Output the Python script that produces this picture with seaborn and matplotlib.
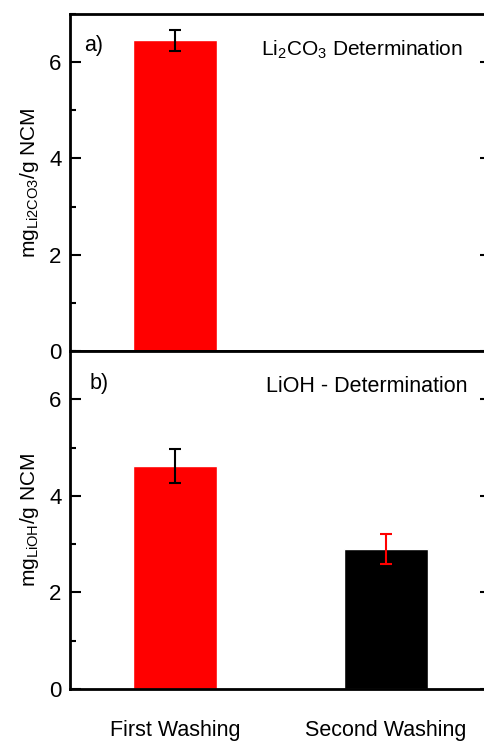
import matplotlib
matplotlib.use("Agg")
import matplotlib.pyplot as plt
import seaborn as sns
import numpy as np
import pandas as pd
from matplotlib.ticker import MultipleLocator

categories = ["First Washing", "Second Washing"]
li2co3_values = [6.45, np.nan]
li2co3_errors = [0.21, np.nan]
lioh_values = [4.62, 2.90]
lioh_errors = [0.36, 0.31]
bar_colors = ["#ff0000", "#000000"]
err_colors = ["#000000", "#ff0000"]

sns.set_theme(style="white")
plt.rcParams['font.family'] = ['Liberation Sans', 'DejaVu Sans']
plt.rcParams['mathtext.fontset'] = 'custom'
plt.rcParams['mathtext.rm'] = 'Liberation Sans'
plt.rcParams['mathtext.it'] = 'Liberation Sans'
for k in ['text.color', 'axes.labelcolor', 'xtick.color', 'ytick.color']:
    plt.rcParams[k] = 'black'

fig = plt.figure(figsize=(4.85, 7.47), dpi=100)
ax1 = fig.add_axes([70/485, (747-351)/747, 421/485, (351-14)/747])
ax2 = fig.add_axes([70/485, (747-689)/747, 421/485, (689-351)/747])

def draw(ax, vals, errs):
    df = pd.DataFrame({"cat": categories, "val": vals})
    sns.barplot(data=df, x="cat", y="val", hue="cat", palette=bar_colors,
                width=0.4, ax=ax, legend=False, saturation=1)
    for i, (v, e) in enumerate(zip(vals, errs)):
        if not np.isnan(v):
            ax.errorbar(i, v, yerr=e, fmt="none", ecolor=err_colors[i],
                        elinewidth=1.5, capsize=4.5, capthick=1.5)
    ax.set_xlim(-0.5, 1.5)
    ax.set_ylim(0, 7.0)
    ax.yaxis.set_major_locator(MultipleLocator(2))
    ax.yaxis.set_minor_locator(MultipleLocator(1))
    ax.tick_params(axis="y", which="major", direction="in", length=8, width=1.5,
                   labelsize=16, right=True, left=True, pad=6)
    ax.tick_params(axis="y", which="minor", direction="in", length=4, width=1.5,
                   right=True, left=True)
    ax.tick_params(axis="x", length=0)
    for s in ax.spines.values():
        s.set_linewidth(2)
        s.set_color("black")
    ax.set_xlabel("")

draw(ax1, li2co3_values, li2co3_errors)
draw(ax2, lioh_values, lioh_errors)

ax1.set_xticklabels([])
ax2.tick_params(axis="x", labelsize=15.5, pad=22)
ax1.set_ylabel(r"mg$_{\mathrm{Li2CO3}}$/g NCM", fontsize=15, labelpad=6)
ax2.set_ylabel(r"mg$_{\mathrm{LiOH}}$/g NCM", fontsize=15, labelpad=6)

fig.text(84/485, 1-45/747, "a)", fontsize=15.5, va="center", ha="left")
fig.text(90/485, 1-383/747, "b)", fontsize=15.5, va="center", ha="left")
fig.text(463/485, 1-50/747, r"Li$_2$CO$_3$ Determination", fontsize=15,
         ha="right", va="center")
fig.text(468/485, 1-387/747, "LiOH - Determination", fontsize=15.5,
         ha="right", va="center")

fig.savefig("out.png", dpi=100)
